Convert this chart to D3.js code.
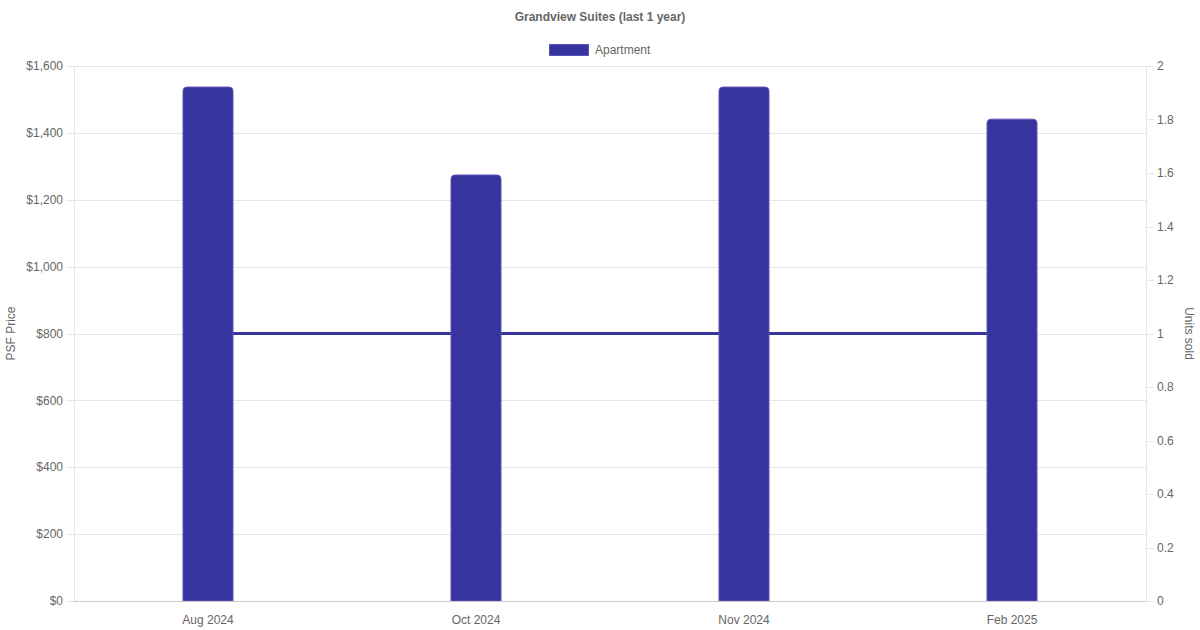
<!DOCTYPE html>
<html>
<head>
<meta charset="utf-8">
<script src="https://cdn.jsdelivr.net/npm/d3@7"></script>
<style>
  html, body { margin: 0; padding: 0; background: #fff; }
  svg { display: block; font-family: "Liberation Sans", Arial, Helvetica, sans-serif; }
</style>
</head>
<body>
<svg id="chart" width="1200" height="630"></svg>
<script>
// ---- Data ----
const categories = ["Aug 2024", "Oct 2024", "Nov 2024", "Feb 2025"];
const psfPrice = [1537, 1274, 1537, 1441];
const unitsSold = [1, 1, 1, 1];
const leftTicks = [0, 200, 400, 600, 800, 1000, 1200, 1400, 1600];
const rightTicks = [0, 0.2, 0.4, 0.6, 0.8, 1, 1.2, 1.4, 1.6, 1.8, 2];
const titleText = "Grandview Suites (last 1 year)";
const seriesName = "Apartment";
const leftTitle = "PSF Price";
const rightTitle = "Units sold";

// ---- Layout ----
const W = 1200, H = 630;
const m = { left: 74, right: 54, top: 66, bottom: 29 };
const plotW = W - m.left - m.right;
const plotH = H - m.top - m.bottom;
const barColor = "#38349e";
const barStroke = "#5a56b8";
const textColor = "#666";
const gridColor = "#e6e6e6";

const svg = d3.select("#chart");

const x = d3.scaleBand().domain(categories).range([m.left, m.left + plotW]).padding(0);
const yL = d3.scaleLinear().domain([0, 1600]).range([m.top + plotH, m.top]);
const yR = d3.scaleLinear().domain([0, 2]).range([m.top + plotH, m.top]);

// Grid lines (left axis)
svg.append("g").selectAll("line").data(leftTicks).join("line")
  .attr("x1", m.left - 8).attr("x2", m.left + plotW)
  .attr("y1", d => Math.round(yL(d)) + 0.5).attr("y2", d => Math.round(yL(d)) + 0.5)
  .attr("stroke", gridColor).attr("stroke-width", 1);

// Right ticks
svg.append("g").selectAll("line").data(rightTicks).join("line")
  .attr("x1", m.left + plotW).attr("x2", m.left + plotW + 8)
  .attr("y1", d => Math.round(yR(d)) + 0.5).attr("y2", d => Math.round(yR(d)) + 0.5)
  .attr("stroke", gridColor).attr("stroke-width", 1);

// Vertical axis lines
svg.append("line").attr("x1", m.left + 0.5).attr("x2", m.left + 0.5)
  .attr("y1", m.top).attr("y2", m.top + plotH).attr("stroke", gridColor);
svg.append("line").attr("x1", m.left + plotW + 0.5).attr("x2", m.left + plotW + 0.5)
  .attr("y1", m.top).attr("y2", m.top + plotH).attr("stroke", gridColor);

// Line series (behind bars)
const line = d3.line()
  .x((d, i) => x(categories[i]) + x.bandwidth() / 2)
  .y(d => yR(d));
svg.append("path").datum(unitsSold)
  .attr("d", line).attr("fill", "none")
  .attr("stroke", barColor).attr("stroke-width", 3);

// Bars
const barW = 50;
const r = 4;
function barPath(cx, top, bottom) {
  const x0 = cx - barW / 2, x1 = cx + barW / 2;
  return `M${x0},${bottom}V${top + r}Q${x0},${top} ${x0 + r},${top}H${x1 - r}Q${x1},${top} ${x1},${top + r}V${bottom}Z`;
}
svg.append("g").selectAll("path").data(psfPrice).join("path")
  .attr("d", (d, i) => barPath(x(categories[i]) + x.bandwidth() / 2, yL(d), yL(0)))
  .attr("fill", barColor)
  .attr("stroke", barStroke).attr("stroke-width", 1);

// Bottom axis line
svg.append("line").attr("x1", m.left).attr("x2", m.left + plotW)
  .attr("y1", m.top + plotH + 0.5).attr("y2", m.top + plotH + 0.5)
  .attr("stroke", "#cccccc");

// Left tick labels
svg.append("g").selectAll("text").data(leftTicks).join("text")
  .attr("x", m.left - 11).attr("y", d => yL(d))
  .attr("dy", "0.35em").attr("text-anchor", "end")
  .attr("font-size", 12).attr("fill", textColor)
  .text(d => "$" + d3.format(",")(d));

// Right tick labels
svg.append("g").selectAll("text").data(rightTicks).join("text")
  .attr("x", m.left + plotW + 11).attr("y", d => yR(d))
  .attr("dy", "0.35em").attr("text-anchor", "start")
  .attr("font-size", 12).attr("fill", textColor)
  .text(d => d3.format("~g")(d));

// X tick labels
svg.append("g").selectAll("text").data(categories).join("text")
  .attr("x", d => x(d) + x.bandwidth() / 2).attr("y", m.top + plotH + 19)
  .attr("dy", "0.35em").attr("text-anchor", "middle")
  .attr("font-size", 12).attr("fill", textColor)
  .text(d => d);

// Axis titles
svg.append("text")
  .attr("transform", `translate(15, ${m.top + plotH / 2}) rotate(-90)`)
  .attr("text-anchor", "middle").attr("font-size", 12).attr("fill", textColor)
  .text(leftTitle);
svg.append("text")
  .attr("transform", `translate(1185, ${m.top + plotH / 2}) rotate(90)`)
  .attr("text-anchor", "middle").attr("font-size", 12).attr("fill", textColor)
  .text(rightTitle);

// Title
svg.append("text")
  .attr("x", W / 2).attr("y", 17).attr("dy", "0.35em")
  .attr("text-anchor", "middle").attr("font-size", 12).attr("font-weight", "bold")
  .attr("fill", textColor).text(titleText);

// Legend
svg.append("rect").attr("x", 549.5).attr("y", 44.5).attr("width", 39).attr("height", 11)
  .attr("fill", barColor).attr("stroke", barStroke).attr("stroke-width", 1);
svg.append("text").attr("x", 595).attr("y", 50).attr("dy", "0.35em")
  .attr("font-size", 12).attr("fill", textColor).text(seriesName);
</script>
</body>
</html>
